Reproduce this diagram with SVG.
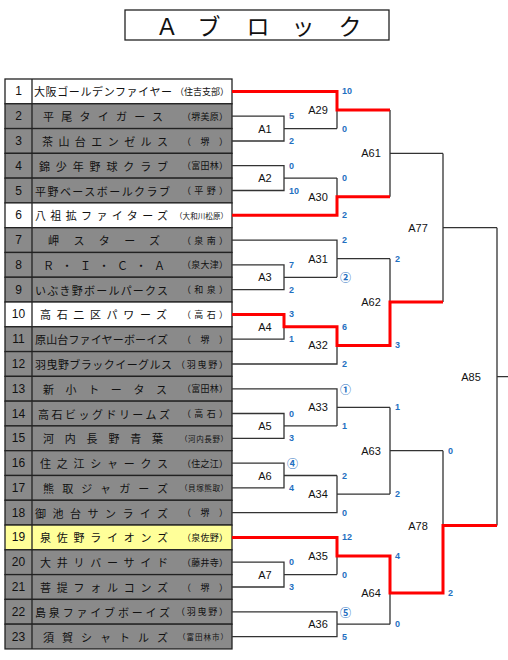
<svg xmlns="http://www.w3.org/2000/svg" width="508" height="660" viewBox="0 0 508 660">
<style>
.bg{fill:#fff}
.row{stroke:#222;stroke-width:1.3}
.g{fill:#8a8a8a}
.w{fill:#fff}
.y{fill:#ffff99}
.num{font-family:"Liberation Sans",Arial,sans-serif;font-size:12px;fill:#111;text-anchor:middle;dominant-baseline:central}
.nm{font-family:"Noto Sans CJK JP",sans-serif;font-size:11px;fill:#111;dominant-baseline:central}
.pr{font-family:"Noto Sans CJK JP",sans-serif;font-size:9px;fill:#111;dominant-baseline:central}
.ps{font-size:7.5px}
.lbl{font-family:"Liberation Sans",Arial,sans-serif;font-size:11px;fill:#111;text-anchor:middle;dominant-baseline:central}
.sc{font-family:"Liberation Sans","Noto Sans CJK JP",sans-serif;font-size:9px;font-weight:bold;fill:#1f70c1;dominant-baseline:central}
.ci{font-family:"Noto Sans CJK JP",sans-serif;font-size:11px;font-weight:bold}
.ln{fill:none;stroke:#333;stroke-width:1.3}
.red{fill:none;stroke:#ff0000;stroke-width:3}
.title{font-family:"Noto Sans CJK JP",sans-serif;font-size:23px;fill:#111;dominant-baseline:central;text-anchor:middle}
</style>
<rect class="bg" x="0" y="0" width="508" height="660"/>
<g id="title">
<rect x="125" y="10" width="264" height="30" fill="#fff" stroke="#222" stroke-width="1.3"/>
<text class="title" x="167 209 258 303 350" y="25">Ａブロック</text>
</g>
<g id="teams">
<g id="team1"><rect class="row w" x="5" y="79" width="227" height="24.78"/><line class="row" x1="32" y1="79" x2="32" y2="103.78"/><text class="num" x="18.5" y="91.4">1</text><text class="nm" x="34" y="91.4" textLength="138" lengthAdjust="spacing">大阪ゴールデンファイヤー</text><text class="pr" x="175" y="91.4" textLength="54" lengthAdjust="spacing">（住吉支部）</text></g>
<g id="team2"><rect class="row g" x="5" y="103.78" width="227" height="24.78"/><line class="row" x1="32" y1="103.78" x2="32" y2="128.56"/><text class="num" x="18.5" y="116.2">2</text><text class="nm" x="43" y="116.2" textLength="120" lengthAdjust="spacing">平尾タイガース</text><text class="pr" x="182" y="116.2" textLength="46" lengthAdjust="spacing">（堺美原）</text></g>
<g id="team3"><rect class="row g" x="5" y="128.56" width="227" height="24.78"/><line class="row" x1="32" y1="128.56" x2="32" y2="153.34"/><text class="num" x="18.5" y="141">3</text><text class="nm" x="42" y="141" textLength="126" lengthAdjust="spacing">茶山台エンゼルス</text><text class="pr" x="182" y="141" textLength="46" lengthAdjust="spacing">（堺）</text></g>
<g id="team4"><rect class="row g" x="5" y="153.34" width="227" height="24.78"/><line class="row" x1="32" y1="153.34" x2="32" y2="178.12"/><text class="num" x="18.5" y="165.7">4</text><text class="nm" x="39" y="165.7" textLength="129" lengthAdjust="spacing">錦少年野球クラブ</text><text class="pr" x="182" y="165.7" textLength="46" lengthAdjust="spacing">（富田林）</text></g>
<g id="team5"><rect class="row g" x="5" y="178.12" width="227" height="24.78"/><line class="row" x1="32" y1="178.12" x2="32" y2="202.9"/><text class="num" x="18.5" y="190.5">5</text><text class="nm" x="35" y="190.5" textLength="135" lengthAdjust="spacing">平野ベースボールクラブ</text><text class="pr" x="182" y="190.5" textLength="46" lengthAdjust="spacing">（平野）</text></g>
<g id="team6"><rect class="row w" x="5" y="202.9" width="227" height="24.78"/><line class="row" x1="32" y1="202.9" x2="32" y2="227.68"/><text class="num" x="18.5" y="215.3">6</text><text class="nm" x="35" y="215.3" textLength="133" lengthAdjust="spacing">八祖拡ファイターズ</text><text class="pr ps" x="175" y="215.3" textLength="53" lengthAdjust="spacing">（大和川松原）</text></g>
<g id="team7"><rect class="row g" x="5" y="227.68" width="227" height="24.78"/><line class="row" x1="32" y1="227.68" x2="32" y2="252.46"/><text class="num" x="18.5" y="240.1">7</text><text class="nm" x="48" y="240.1" textLength="112" lengthAdjust="spacing">岬スターズ</text><text class="pr" x="182" y="240.1" textLength="46" lengthAdjust="spacing">（泉南）</text></g>
<g id="team8"><rect class="row g" x="5" y="252.46" width="227" height="24.78"/><line class="row" x1="32" y1="252.46" x2="32" y2="277.24"/><text class="num" x="18.5" y="264.9">8</text><text class="nm" x="43" y="264.9" textLength="122" lengthAdjust="spacing">Ｒ・Ｉ・Ｃ・Ａ</text><text class="pr" x="182" y="264.9" textLength="46" lengthAdjust="spacing">（泉大津）</text></g>
<g id="team9"><rect class="row g" x="5" y="277.24" width="227" height="24.78"/><line class="row" x1="32" y1="277.24" x2="32" y2="302.02"/><text class="num" x="18.5" y="289.6">9</text><text class="nm" x="35" y="289.6" textLength="133" lengthAdjust="spacing">いぶき野ボールパークス</text><text class="pr" x="182" y="289.6" textLength="46" lengthAdjust="spacing">（和泉）</text></g>
<g id="team10"><rect class="row w" x="5" y="302.02" width="227" height="24.78"/><line class="row" x1="32" y1="302.02" x2="32" y2="326.8"/><text class="num" x="18.5" y="314.4">10</text><text class="nm" x="40" y="314.4" textLength="127" lengthAdjust="spacing">高石二区パワーズ</text><text class="pr" x="182" y="314.4" textLength="46" lengthAdjust="spacing">（高石）</text></g>
<g id="team11"><rect class="row g" x="5" y="326.8" width="227" height="24.78"/><line class="row" x1="32" y1="326.8" x2="32" y2="351.58"/><text class="num" x="18.5" y="339.2">11</text><text class="nm" x="35" y="339.2" textLength="133" lengthAdjust="spacing">原山台ファイヤーボーイズ</text><text class="pr" x="182" y="339.2" textLength="46" lengthAdjust="spacing">（堺）</text></g>
<g id="team12"><rect class="row g" x="5" y="351.58" width="227" height="24.78"/><line class="row" x1="32" y1="351.58" x2="32" y2="376.36"/><text class="num" x="18.5" y="364">12</text><text class="nm" x="35" y="364" textLength="137" lengthAdjust="spacing">羽曳野ブラックイーグルス</text><text class="pr" x="176" y="364" textLength="52" lengthAdjust="spacing">（羽曳野）</text></g>
<g id="team13"><rect class="row g" x="5" y="376.36" width="227" height="24.78"/><line class="row" x1="32" y1="376.36" x2="32" y2="401.14"/><text class="num" x="18.5" y="388.8">13</text><text class="nm" x="43" y="388.8" textLength="124" lengthAdjust="spacing">新小トータス</text><text class="pr" x="182" y="388.8" textLength="46" lengthAdjust="spacing">（富田林）</text></g>
<g id="team14"><rect class="row g" x="5" y="401.14" width="227" height="24.78"/><line class="row" x1="32" y1="401.14" x2="32" y2="425.92"/><text class="num" x="18.5" y="413.5">14</text><text class="nm" x="38" y="413.5" textLength="132" lengthAdjust="spacing">高石ビッグドリームズ</text><text class="pr" x="182" y="413.5" textLength="46" lengthAdjust="spacing">（高石）</text></g>
<g id="team15"><rect class="row g" x="5" y="425.92" width="227" height="24.78"/><line class="row" x1="32" y1="425.92" x2="32" y2="450.7"/><text class="num" x="18.5" y="438.3">15</text><text class="nm" x="43" y="438.3" textLength="120" lengthAdjust="spacing">河内長野青葉</text><text class="pr ps" x="180" y="438.3" textLength="48" lengthAdjust="spacing">（河内長野）</text></g>
<g id="team16"><rect class="row g" x="5" y="450.7" width="227" height="24.78"/><line class="row" x1="32" y1="450.7" x2="32" y2="475.48"/><text class="num" x="18.5" y="463.1">16</text><text class="nm" x="40" y="463.1" textLength="128" lengthAdjust="spacing">住之江シャークス</text><text class="pr" x="182" y="463.1" textLength="46" lengthAdjust="spacing">（住之江）</text></g>
<g id="team17"><rect class="row g" x="5" y="475.48" width="227" height="24.78"/><line class="row" x1="32" y1="475.48" x2="32" y2="500.26"/><text class="num" x="18.5" y="487.9">17</text><text class="nm" x="43" y="487.9" textLength="125" lengthAdjust="spacing">熊取ジャガーズ</text><text class="pr ps" x="180" y="487.9" textLength="48" lengthAdjust="spacing">（貝塚熊取）</text></g>
<g id="team18"><rect class="row g" x="5" y="500.26" width="227" height="24.78"/><line class="row" x1="32" y1="500.26" x2="32" y2="525.04"/><text class="num" x="18.5" y="512.7">18</text><text class="nm" x="35" y="512.7" textLength="133" lengthAdjust="spacing">御池台サンライズ</text><text class="pr" x="182" y="512.7" textLength="46" lengthAdjust="spacing">（堺）</text></g>
<g id="team19"><rect class="row y" x="5" y="525.04" width="227" height="24.78"/><line class="row" x1="32" y1="525.04" x2="32" y2="549.82"/><text class="num" x="18.5" y="537.4">19</text><text class="nm" x="40" y="537.4" textLength="128" lengthAdjust="spacing">泉佐野ライオンズ</text><text class="pr" x="182" y="537.4" textLength="46" lengthAdjust="spacing">（泉佐野）</text></g>
<g id="team20"><rect class="row g" x="5" y="549.82" width="227" height="24.78"/><line class="row" x1="32" y1="549.82" x2="32" y2="574.6"/><text class="num" x="18.5" y="562.2">20</text><text class="nm" x="40" y="562.2" textLength="128" lengthAdjust="spacing">大井リバーサイド</text><text class="pr" x="182" y="562.2" textLength="46" lengthAdjust="spacing">（藤井寺）</text></g>
<g id="team21"><rect class="row g" x="5" y="574.6" width="227" height="24.78"/><line class="row" x1="32" y1="574.6" x2="32" y2="599.38"/><text class="num" x="18.5" y="587">21</text><text class="nm" x="40" y="587" textLength="128" lengthAdjust="spacing">菩提フォルコンズ</text><text class="pr" x="182" y="587" textLength="46" lengthAdjust="spacing">（堺）</text></g>
<g id="team22"><rect class="row g" x="5" y="599.38" width="227" height="24.78"/><line class="row" x1="32" y1="599.38" x2="32" y2="624.16"/><text class="num" x="18.5" y="611.8">22</text><text class="nm" x="35" y="611.8" textLength="135" lengthAdjust="spacing">島泉ファイブボーイズ</text><text class="pr" x="176" y="611.8" textLength="52" lengthAdjust="spacing">（羽曳野）</text></g>
<g id="team23"><rect class="row g" x="5" y="624.16" width="227" height="24.78"/><line class="row" x1="32" y1="624.16" x2="32" y2="648.94"/><text class="num" x="18.5" y="636.6">23</text><text class="nm" x="43" y="636.6" textLength="125" lengthAdjust="spacing">須賀シャトルズ</text><text class="pr ps" x="178" y="636.6" textLength="50" lengthAdjust="spacing">（富田林市）</text></g>
</g>
<g id="connectors">
<path class="ln" d="M232,116.2H284V141H232M284,128.6H337 M232,165.7H284V190.5H232M284,178.1H337 M232,264.9H284V289.6H232M284,277.3H337 M232,314.4H284V339.2H232M284,326.8H337 M232,413.5H284V438.3H232M284,425.9H337 M232,463.1H284V487.9H232M284,475.5H337 M232,562.2H284V587H232M284,574.6H337"/>
<path class="ln" d="M232,91.4H337V128.6M337,110H390 M232,215.3H337V178.1M337,196.7H390 M232,240.1H337V277.3M337,258.7H390 M232,364H337V326.8M337,345.4H390 M232,388.8H337V425.9M337,407.4H390 M232,512.7H337V475.5M337,494.1H390 M232,537.4H337V574.6M337,556H390 M232,611.8H337V636.6H232M337,624.2H390"/>
<path class="ln" d="M390,110V196.7M390,153.4H443 M390,258.7V345.4M390,302H443 M390,407.4V494.1M390,450.7H443 M390,556V624.2M390,593H443"/>
<path class="ln" d="M443,153.4V302M443,227.7H497 M443,450.7V593M443,525.5H497 M497,227.7V525.5M497,376.6H508"/>
<path class="red" d="M232,91.4H337V110H390"/>
<path class="red" d="M232,215.3H337V196.7H390"/>
<path class="red" d="M232,314.4H284V326.8H337V345.4H390V302H443"/>
<path class="red" d="M232,537.4H337V556H390V593H443V525.5H497"/>
</g>
<g id="matches">
<g id="A1"><text class="lbl" x="265" y="128.6">A1</text><text class="sc" x="289" y="116.2">5</text><text class="sc" x="289" y="141">2</text></g>
<g id="A2"><text class="lbl" x="265" y="178.1">A2</text><text class="sc" x="289" y="165.7">0</text><text class="sc" x="289" y="190.5">10</text></g>
<g id="A3"><text class="lbl" x="265" y="277.3">A3</text><text class="sc" x="289" y="264.9">7</text><text class="sc" x="289" y="289.6">2</text></g>
<g id="A4"><text class="lbl" x="265" y="326.8">A4</text><text class="sc" x="289" y="314.4">3</text><text class="sc" x="289" y="339.2">1</text></g>
<g id="A5"><text class="lbl" x="265" y="425.9">A5</text><text class="sc" x="289" y="413.5">0</text><text class="sc" x="289" y="438.3">3</text></g>
<g id="A6"><text class="lbl" x="265" y="475.5">A6</text><text class="sc ci" x="287" y="463.1">④</text><text class="sc" x="289" y="487.9">4</text></g>
<g id="A7"><text class="lbl" x="265" y="574.6">A7</text><text class="sc" x="289" y="562.2">0</text><text class="sc" x="289" y="587">3</text></g>
<g id="A29"><text class="lbl" x="318" y="110">A29</text><text class="sc" x="342" y="91.4">10</text><text class="sc" x="342" y="128.6">0</text></g>
<g id="A30"><text class="lbl" x="318" y="196.7">A30</text><text class="sc" x="342" y="178.1">0</text><text class="sc" x="342" y="215.3">2</text></g>
<g id="A31"><text class="lbl" x="318" y="258.7">A31</text><text class="sc" x="342" y="240.1">2</text><text class="sc ci" x="340" y="277.3">②</text></g>
<g id="A32"><text class="lbl" x="318" y="345.4">A32</text><text class="sc" x="342" y="326.8">6</text><text class="sc" x="342" y="364">2</text></g>
<g id="A33"><text class="lbl" x="318" y="407.4">A33</text><text class="sc ci" x="340" y="388.8">①</text><text class="sc" x="342" y="425.9">1</text></g>
<g id="A34"><text class="lbl" x="318" y="494.1">A34</text><text class="sc" x="342" y="475.5">2</text><text class="sc" x="342" y="512.7">0</text></g>
<g id="A35"><text class="lbl" x="318" y="556">A35</text><text class="sc" x="342" y="537.4">12</text><text class="sc" x="342" y="574.6">0</text></g>
<g id="A36"><text class="lbl" x="318" y="624.2">A36</text><text class="sc ci" x="340" y="611.8">⑤</text><text class="sc" x="342" y="636.6">5</text></g>
<g id="A61"><text class="lbl" x="371" y="153.4">A61</text></g>
<g id="A62"><text class="lbl" x="371" y="302">A62</text><text class="sc" x="395" y="258.7">2</text><text class="sc" x="395" y="345.4">3</text></g>
<g id="A63"><text class="lbl" x="371" y="450.7">A63</text><text class="sc" x="395" y="407.4">1</text><text class="sc" x="395" y="494.1">2</text></g>
<g id="A64"><text class="lbl" x="371" y="593">A64</text><text class="sc" x="395" y="556">4</text><text class="sc" x="395" y="624.2">0</text></g>
<g id="A77"><text class="lbl" x="418" y="227.7">A77</text></g>
<g id="A78"><text class="lbl" x="418" y="525.5">A78</text><text class="sc" x="448" y="450.7">0</text><text class="sc" x="448" y="593">2</text></g>
<g id="A85"><text class="lbl" x="471" y="376.6">A85</text></g>
</g>
</svg>
